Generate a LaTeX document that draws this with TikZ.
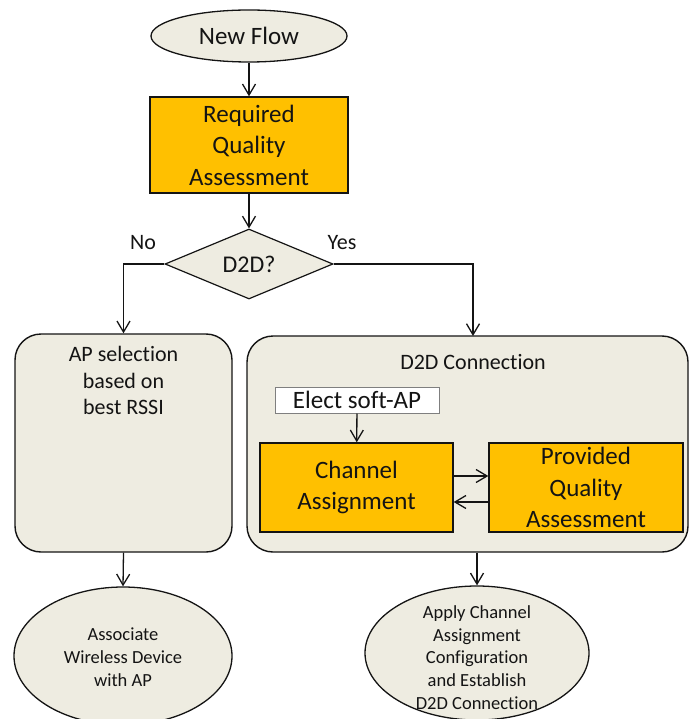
\documentclass[tikz,border=0pt]{standalone}
\usepackage{fontspec}
\setmainfont{Carlito}[Ligatures=NoCommon]
\usetikzlibrary{shapes.geometric,arrows.meta}
\definecolor{paper}{HTML}{EEECE1}
\definecolor{amber}{HTML}{FFC000}
\definecolor{ink}{HTML}{141414}
\definecolor{frame}{HTML}{7F7F7F}

\begin{document}
\begin{tikzpicture}[x=1pt,y=-1pt,
  every node/.style={text=ink},
  big/.style={font=\fontsize{25}{31.5}\selectfont},
  mid/.style={font=\fontsize{22}{26.5}\selectfont},
  small/.style={font=\fontsize{18.5}{22.8}\selectfont},
  oval/.style={draw=ink,line width=1.3pt,fill=paper,ellipse,inner sep=0pt},
  taskbox/.style={draw=ink,line width=1.4pt,fill=amber,rectangle,inner sep=0pt,align=center,big},
  panel/.style={draw=ink,line width=1.4pt,fill=paper,rectangle,rounded corners=26pt,inner sep=0pt},
  conn/.style={draw=ink,line width=1.3pt,-{Straight Barb[length=11pt,width=13pt]}}]

\useasboundingbox (0,0) rectangle (689,719);

% start
\node[oval,minimum width=196pt,minimum height=52pt,big] (start) at (249,36) {New Flow};

% required quality
\node[taskbox,minimum width=198pt,minimum height=96pt] (rqa) at (249,145)
  {Required\\Quality\\Assessment};

% decision
\node[draw=ink,line width=1.2pt,fill=paper,diamond,inner sep=0pt,
      minimum width=168pt,minimum height=70pt,font=\fontsize{24}{28}\selectfont] (dec) at (249,264) {D2D?};
\node[mid] (nolab) at (143,243) {No};
\node[mid] (yeslab) at (342,243) {Yes};

% left panel
\node[panel,minimum width=217pt,minimum height=218pt] (apsel) at (123.5,443) {};
\node[mid,align=center,anchor=north] (apseltxt) at (123.5,343) {AP selection\\based on\\best RSSI};

% right panel
\node[panel,minimum width=441pt,minimum height=216pt] (d2dc) at (467.5,444) {};
\node[mid] (d2dtitle) at (473,362) {D2D Connection};
\node[draw=frame,line width=1pt,fill=white,rectangle,inner sep=0pt,
      minimum width=164pt,minimum height=26pt,big] (elect) at (357,400) {Elect soft-AP};
\node[taskbox,minimum width=193pt,minimum height=89pt] (chan) at (356.5,487.5)
  {Channel\\Assignment};
\node[taskbox,minimum width=194pt,minimum height=89pt] (pqa) at (586,487.5)
  {Provided\\Quality\\Assessment};

% outcomes
\node[oval,minimum width=218pt,minimum height=138pt] (assoc) at (123,656) {};
\node[small,align=center] (assoctxt) at (123,657) {Associate\\Wireless Device\\with AP};
\node[oval,minimum width=224pt,minimum height=134pt] (apply) at (477,653) {};
\node[small,align=center] (applytxt) at (477,657.5)
  {Apply Channel\\Assignment\\Configuration\\and Establish\\D2D Connection};

% connectors
\coordinate (rtop) at (473,336);
\coordinate (lvl1) at (0,476);
\coordinate (lvl2) at (0,502);
\draw[conn] (start) -- (rqa);
\draw[conn] (rqa) -- (dec);
\draw[conn] (dec.west) -| (apsel.north);
\draw[conn] (dec.east) -| (rtop);
\draw[conn] (elect) -- (chan);
\draw[conn] (chan.east |- lvl1) -- (pqa.west |- lvl1);
\draw[conn] (pqa.west |- lvl2) -- (chan.east |- lvl2);
\draw[conn] (apsel.south) -- (assoc.north);
\draw[conn] (apply.north |- d2dc.south) -- (apply.north);
\end{tikzpicture}
\end{document}
